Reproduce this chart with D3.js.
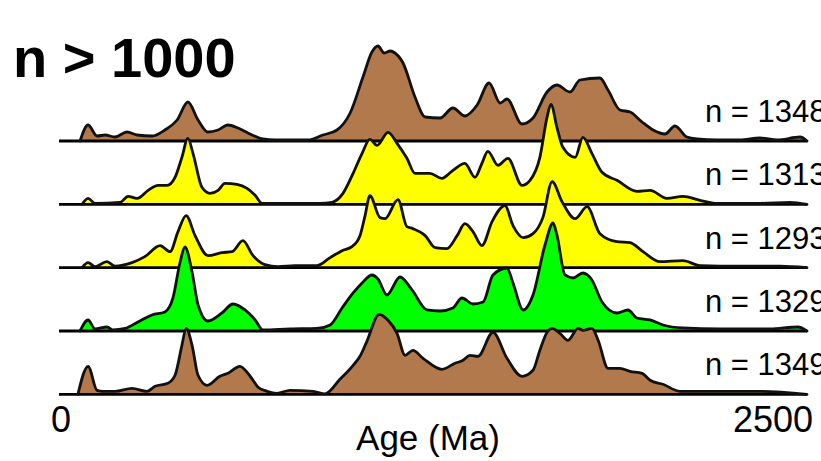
<!DOCTYPE html>
<html>
<head>
<meta charset="utf-8">
<script src="https://cdn.jsdelivr.net/npm/d3@7/dist/d3.min.js"></script>
<style>
  html, body { margin: 0; padding: 0; background: #fff; }
  svg { display: block; }
  text { font-family: "Liberation Sans", Arial, Helvetica, sans-serif; fill: #000; }
</style>
</head>
<body>
<svg id="chart" width="821" height="461"></svg>
<script>
// ---- Data (age in Ma, relative probability density) ----
const sampleLabels = ["n = 1348", "n = 1313", "n = 1293", "n = 1329", "n = 1349"];
const sampleColors = ["#b2794c", "#ffff00", "#ffff00", "#00ff00", "#b2794c"];
const xTickLabels = ["0", "2500"];
const xAxisTitle = "Age (Ma)";
const chartTitle = "n > 1000";

const density1348 = [[67,0],[94,16],[124,5],[151,6],[184,4],[224,9],[258,6],[308,5],[351,11],[392,21],[428,39],[462,21],[495,9],[529,11],[562,16],[596,13],[643,6],[679,2],[720,1],[770,1],[830,1],[880,6],[927,11],[971,28],[1014,64],[1044,89],[1064,95],[1085,88],[1105,90],[1121,88],[1148,78],[1188,44],[1222,24],[1272,23],[1315,33],[1355,25],[1396,36],[1436,58],[1473,38],[1496,42],[1546,17],[1583,23],[1630,49],[1663,56],[1707,49],[1740,61],[1807,63],[1834,51],[1874,31],[1908,29],[1948,19],[1985,11],[2025,7],[2058,15],[2098,4],[2132,2],[2199,1],[2276,1],[2343,3],[2400,1],[2477,4],[2500,0]];

const density1313 = [[74,0],[94,6],[117,1],[201,2],[228,8],[258,6],[295,14],[328,19],[358,19],[385,27],[408,47],[428,66],[445,51],[475,17],[502,11],[529,14],[552,21],[592,20],[626,16],[653,9],[676,1],[763,1],[870,1],[910,2],[947,11],[981,31],[1011,51],[1037,65],[1061,59],[1098,72],[1128,61],[1161,46],[1188,31],[1238,31],[1278,26],[1315,34],[1355,41],[1389,27],[1412,41],[1432,53],[1466,39],[1499,46],[1546,19],[1573,24],[1606,47],[1630,87],[1643,100],[1663,77],[1683,57],[1724,47],[1750,67],[1780,51],[1814,32],[1864,24],[1931,13],[1975,14],[2031,6],[2085,8],[2142,4],[2192,1],[2343,1],[2443,2],[2500,0]];

const density1293 = [[74,0],[94,5],[117,1],[157,6],[184,1.5],[241,5],[284,11],[335,22],[368,16],[395,36],[422,52],[452,32],[495,12],[542,15],[576,16],[612,27],[646,12],[686,3],[730,1],[786,2],[860,2],[904,10],[944,17],[977,21],[1004,32],[1021,52],[1037,72],[1071,50],[1088,49],[1131,68],[1161,41],[1181,39],[1222,32],[1255,20],[1295,19],[1329,32],[1355,44],[1382,36],[1412,22],[1446,46],[1489,62],[1516,42],[1550,30],[1583,34],[1616,50],[1647,86],[1680,66],[1724,49],[1764,61],[1807,34],[1864,26],[1908,25],[1951,16],[2008,6],[2085,7],[2142,2],[2276,1.5],[2410,1.5],[2500,0]];

const density1329 = [[67,0],[94,11],[117,2],[157,4],[177,1],[218,2.5],[261,9],[308,16],[351,19],[378,33],[402,69],[418,84],[442,59],[462,26],[495,10],[542,18],[579,27],[619,21],[653,11],[679,1],[770,2],[860,2.5],[904,6],[944,23],[981,38],[1011,48],[1044,56],[1064,52],[1094,36],[1138,54],[1178,41],[1228,21],[1272,20],[1315,23],[1345,33],[1382,27],[1416,29],[1449,56],[1496,63],[1516,48],[1550,21],[1583,36],[1623,86],[1650,108],[1663,96],[1690,56],[1717,53],[1750,58],[1780,51],[1814,29],[1864,18],[1901,21],[1931,13],[1975,11],[2018,6],[2085,3],[2209,2],[2376,2],[2470,4],[2500,0]];

const density1349 = [[60,0],[94,28],[124,4],[144,3],[184,3],[241,6],[291,3],[318,8],[361,11],[385,19],[408,49],[422,66],[442,49],[462,19],[492,9],[535,18],[562,21],[602,28],[629,21],[646,14],[663,7],[693,3],[726,1],[770,4],[847,3],[887,0.5],[937,15],[981,29],[1004,38],[1027,53],[1068,80],[1098,74],[1128,61],[1155,39],[1181,44],[1215,36],[1278,25],[1322,31],[1349,34],[1372,39],[1399,38],[1449,62],[1496,36],[1546,18],[1583,24],[1606,44],[1630,62],[1647,66],[1673,61],[1700,54],[1734,66],[1750,64],[1780,66],[1801,54],[1834,26],[1874,26],[1908,23],[1948,21],[1975,14],[2018,10],[2075,3],[2209,3],[2343,3],[2500,0]];

const densities = [density1348, density1313, density1293, density1329, density1349];

// ---- Layout ----
const svg = d3.select("#chart");
const x = d3.scaleLinear().domain([0, 2500]).range([60, 807]);
const rowBase = d3.scalePoint().domain(sampleLabels).range([141, 394.3]);
const h = d3.scaleLinear().domain([0, 100]).range([0, 100]);

// Title
svg.append("text")
  .attr("x", 13).attr("y", 77)
  .attr("font-size", 56).attr("font-weight", "bold")
  .text(chartTitle);

sampleLabels.forEach((lab, i) => {
  const base = rowBase(lab);
  const g = svg.append("g");
  const data = densities[i];
  const area = d3.area()
    .x(d => x(d[0]))
    .y0(base)
    .y1(d => base - h(d[1]))
    .curve(d3.curveMonotoneX);
  const line = d3.line()
    .x(d => x(d[0]))
    .y(d => base - h(d[1]))
    .curve(d3.curveMonotoneX);

  g.append("path").datum(data)
    .attr("d", area)
    .attr("fill", sampleColors[i]);

  g.append("line")
    .attr("x1", x(0) - 1).attr("x2", x(2500))
    .attr("y1", base).attr("y2", base)
    .attr("stroke", "#000").attr("stroke-width", 2.8);

  g.append("path").datum(data)
    .attr("d", line)
    .attr("fill", "none")
    .attr("stroke", "#111")
    .attr("stroke-width", 2.8)
    .attr("stroke-linejoin", "round")
    .attr("stroke-linecap", "round");

  g.append("text")
    .attr("x", 705).attr("y", base - 19)
    .attr("font-size", 31)
    .text(lab);
});

// Axis tick labels
const xTickValues = [0, 2500];
svg.append("text")
  .attr("x", x(xTickValues[0]) + 1).attr("y", 432)
  .attr("text-anchor", "middle")
  .attr("font-size", 36)
  .text(xTickLabels[0]);
svg.append("text")
  .attr("x", x(xTickValues[1]) + 6).attr("y", 432)
  .attr("text-anchor", "end")
  .attr("font-size", 36)
  .text(xTickLabels[1]);

// Axis title
svg.append("text")
  .attr("x", 428).attr("y", 450)
  .attr("text-anchor", "middle")
  .attr("font-size", 35)
  .text(xAxisTitle);
</script>
</body>
</html>
